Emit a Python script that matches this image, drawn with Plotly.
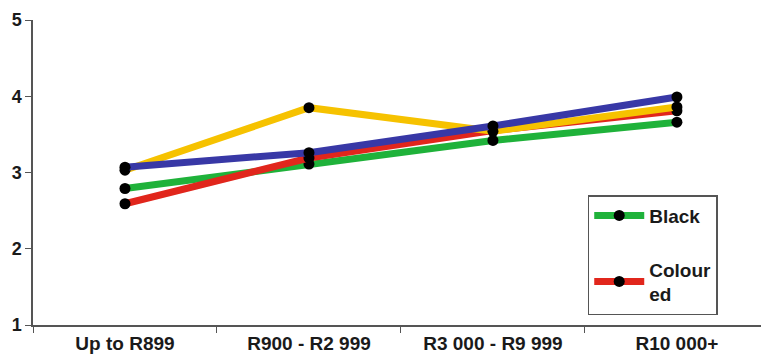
import plotly.graph_objects as go

# Income bands on the x axis
categories = ["Up to R899", "R900 - R2 999", "R3 000 - R9 999", "R10 000+"]

# Mean scores per group
black = [2.79, 3.11, 3.42, 3.66]
coloured = [2.59, 3.19, 3.55, 3.81]
indian = [3.03, 3.85, 3.54, 3.86]
white = [3.07, 3.26, 3.61, 3.99]

y_ticks = [1, 2, 3, 4, 5]

FONT = "Arial, 'Liberation Sans', sans-serif"

series = [
    ("Black", black, "#1fb23a", True, "g1"),
    ("Coloured", coloured, "#e1261c", True, "g2"),
    ("Indian", indian, "#f6c200", False, "g3"),
    ("White", white, "#3838a6", False, "g4"),
]

fig = go.Figure()
for name, vals, color, show, grp in series:
    fig.add_trace(go.Scatter(
        x=categories, y=vals, name=name if name != "Coloured" else "Colour<br>ed",
        mode="lines+markers",
        line=dict(color=color, width=7),
        marker=dict(color="black", size=11),
        showlegend=show, legendgroup=grp,
    ))

fig.update_layout(
    width=761, height=359,
    margin=dict(l=33, r=0, t=20, b=34),
    paper_bgcolor="white", plot_bgcolor="white",
    font=dict(family=FONT, color="#1a1a1a"),
    legend=dict(
        x=0.762, y=0.426, xanchor="left", yanchor="top",
        bordercolor="#555555", borderwidth=1.5, bgcolor="white",
        font=dict(size=19, family=FONT, weight="bold", color="#1a1a1a"),
        tracegroupgap=26, itemwidth=50,
    ),
)

fig.update_xaxes(
    type="category", range=[-0.5, 3.457],
    showline=True, linecolor="#555555", linewidth=1.5,
    ticks="outside", tickson="boundaries", ticklen=6, tickcolor="#555555",
    showgrid=False, zeroline=False,
    tickfont=dict(size=19, family=FONT, weight="bold", color="#1a1a1a"),
)
fig.update_yaxes(
    range=[1, 5], tickvals=y_ticks,
    showline=True, linecolor="#555555", linewidth=1.5,
    ticks="outside", ticklen=6, tickcolor="#555555",
    showgrid=False, zeroline=False,
    tickfont=dict(size=18, family=FONT, weight="bold", color="#1a1a1a"),
)

fig.write_html("out.html")
